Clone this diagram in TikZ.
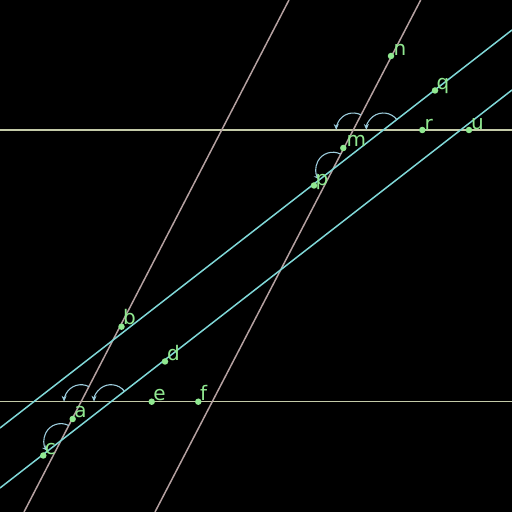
\documentclass[tikz,border=0pt]{standalone}
\usepackage{fontspec}
\setmainfont{DejaVu Sans}
\usetikzlibrary{intersections,arrows.meta}
\definecolor{hcol}{HTML}{C4CAA8}
\definecolor{gcol}{HTML}{B4A0A0}
\definecolor{ccol}{HTML}{80D8D8}
\definecolor{ptcol}{HTML}{90E890}
\definecolor{acol}{HTML}{9CCCDC}
\begin{document}
\begin{tikzpicture}[x=1pt,y=1pt,
  hline/.style={draw=hcol,line width=1.5pt},
  gline/.style={draw=gcol,line width=1.5pt},
  cline/.style={draw=ccol,line width=1.5pt},
  pt/.style={circle,fill=ptcol,inner sep=0pt,minimum size=6.5pt},
  lbl/.style={text=ptcol,font=\fontsize{20}{20}\selectfont,anchor=base west,inner sep=0pt},
  angmark/.style={draw=acol,line width=1.1pt,-{Stealth[length=6pt,width=5pt]}}]
\fill[black] (0,0) rectangle (512,512);
\useasboundingbox (0,0) rectangle (512,512);
\begin{scope}
\clip (0,0) rectangle (512,512);
\coordinate (h1a) at (0,382); \coordinate (h1b) at (512,382);
\coordinate (h2a) at (0,110.3); \coordinate (h2b) at (512,110.3);
\coordinate (g1a) at (289,512); \coordinate (g1b) at (24,0);
\coordinate (g2a) at (420.7,512); \coordinate (g2b) at (155,0);
\coordinate (c1a) at (0,84); \coordinate (c1b) at (512,482);
\coordinate (c2a) at (0,24); \coordinate (c2b) at (512,422);
\path[hline,name path=H1] (h1a) -- (h1b);
\path[hline,name path=H2] (h2a) -- (h2b);
\path[gline,name path=G1] (g1a) -- (g1b);
\path[gline,name path=G2] (g2a) -- (g2b);
\path[cline,name path=C1] (c1a) -- (c1b);
\path[cline,name path=C2] (c2a) -- (c2b);
\path[name intersections={of=H1 and G2,by=X1}];
\path[name intersections={of=H1 and C1,by=X2}];
\path[name intersections={of=G2 and C1,by=X3}];
\path[name intersections={of=H2 and G1,by=X4}];
\path[name intersections={of=H2 and C2,by=X5}];
\path[name intersections={of=G1 and C2,by=X6}];
\end{scope}
% angle marks
\draw[angmark] ([shift={(62.6:17)}]X1) arc[start angle=62.6,end angle=180,radius=17];
\draw[angmark] ([shift={(37.85:17)}]X2) arc[start angle=37.85,end angle=180,radius=17];
\draw[angmark] ([shift={(62.6:17)}]X3) arc[start angle=62.6,end angle=217.85,radius=17];
\draw[angmark] ([shift={(62.6:17)}]X4) arc[start angle=62.6,end angle=180,radius=17];
\draw[angmark] ([shift={(37.85:17)}]X5) arc[start angle=37.85,end angle=180,radius=17];
\draw[angmark] ([shift={(62.6:17)}]X6) arc[start angle=62.6,end angle=217.85,radius=17];
% points
\node[pt] (n) at (391,456) {};
\node[pt] (q) at (435,421.5) {};
\node[pt] (r) at (422.3,382) {};
\node[pt] (u) at (469,382) {};
\node[pt] (m) at (343.3,364) {};
\node[pt] (p) at (314,326.5) {};
\node[pt] (b) at (121.5,185.3) {};
\node[pt] (d) at (165,150.5) {};
\node[pt] (e) at (151.7,110.3) {};
\node[pt] (f) at (198.3,110.3) {};
\node[pt] (a) at (72.7,93) {};
\node[pt] (c) at (43.3,56.5) {};
\node[lbl] (ln) at ([shift={(2.5,0)}]n) {n};
\node[lbl] (lq) at ([shift={(1.5,0.5)}]q) {q};
\node[lbl] (lr) at ([shift={(2,-0.5)}]r) {r};
\node[lbl] (lu) at ([shift={(2,0)}]u) {u};
\node[lbl] (lm) at ([shift={(3,1.5)}]m) {m};
\node[lbl] (lp) at ([shift={(1.5,0)}]p) {p};
\node[lbl] (lb) at ([shift={(1.5,2)}]b) {b};
\node[lbl] (ld) at ([shift={(2,1)}]d) {d};
\node[lbl] (le) at ([shift={(1.5,1)}]e) {e};
\node[lbl] (lf) at ([shift={(1.5,1)}]f) {f};
\node[lbl] (la) at ([shift={(1.5,1)}]a) {a};
\node[lbl] (lc) at ([shift={(1.5,1)}]c) {c};
\end{tikzpicture}
\end{document}
